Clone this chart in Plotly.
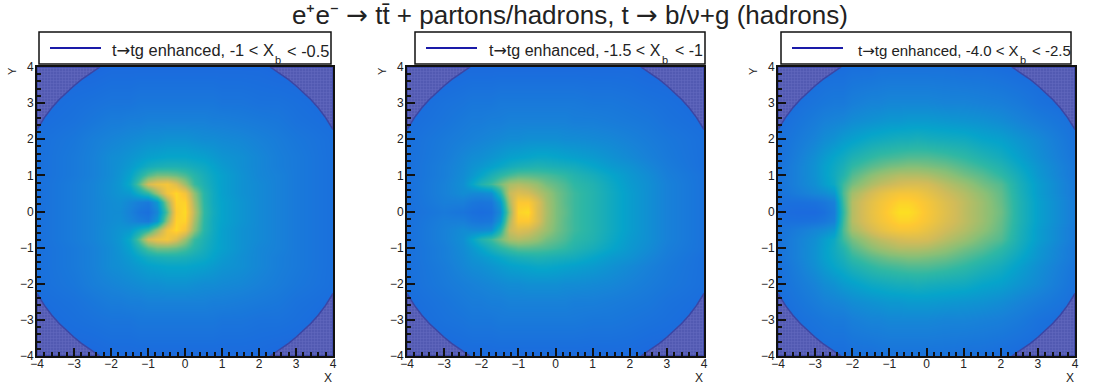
import plotly.graph_objects as go

# kBird palette (lifted slightly at the blue end to match the picture)
bird = [[0.0,'rgb(53,42,135)'],[0.125,'rgb(28,98,224)'],[0.25,'rgb(24,129,216)'],[0.375,'rgb(6,164,202)'],
        [0.5,'rgb(46,183,164)'],[0.625,'rgb(135,191,119)'],[0.75,'rgb(209,187,89)'],[0.875,'rgb(254,200,50)'],[1.0,'rgb(249,251,14)']]

y_nodes = [4,3,2.5,2,1.5,1.25,1,.75,.5,.25,0,-.25,-.5,-.75,-1,-1.25,-1.5,-2,-2.5,-3,-4]

x1 = [-4,-3,-2.5,-2,-1.75,-1.5,-1.25,-1,-.75,-.5,-.25,0,.25,.5,.75,1,1.5,2,2.5,3,4]
z1 = [
[15,15,15,16,16,16,16,16,16,16,16,16,16,16,16,16,16,16,15,15,15],
[16,18,19,20,20,20,21,21,21,21,21,21,21,21,21,20,20,19,19,18,16],
[17,19,21,23,23,24,24,25,25,25,25,25,25,25,24,24,23,22,21,19,17],
[18,21,24,26,27,28,29,30,30,31,31,31,30,29,29,28,27,25,23,21,18],
[18,22,25,29,30,32,34,36,37,38,38,38,37,36,34,32,30,27,24,22,18],
[18,22,25,29,31,34,38,42,44,45,45,44,42,40,37,34,30,27,24,22,18],
[18,22,25,29,32,37,46,55,60,60,58,54,48,43,39,36,31,27,25,22,18],
[18,23,26,30,33,40,56,76,82,85,78,66,52,45,40,36,31,28,25,22,18],
[18,23,26,30,32,34,42,50,66,84,91,84,64,48,41,36,31,28,25,22,18],
[18,23,26,29,30,27,24,22,33,65,90,90,68,49,41,37,32,28,25,22,18],
[18,23,26,29,29,25,20,18,27,56,88,92,71,50,42,37,32,28,25,22,18],
[18,23,26,29,30,27,24,22,33,65,90,90,68,49,41,37,32,28,25,22,18],
[18,23,26,30,32,34,42,50,66,84,91,84,64,48,41,36,31,28,25,22,18],
[18,23,26,30,33,40,56,76,82,85,78,66,52,45,40,36,31,28,25,22,18],
[18,22,25,29,32,37,46,55,60,60,58,54,48,43,39,36,31,27,25,22,18],
[18,22,25,29,31,34,38,42,44,45,45,44,42,40,37,34,30,27,24,22,18],
[18,22,25,29,30,32,34,36,37,38,38,38,37,36,34,32,30,27,24,22,18],
[18,21,24,26,27,28,29,30,30,31,31,31,30,29,29,28,27,25,23,21,18],
[17,19,21,23,23,24,24,25,25,25,25,25,25,25,24,24,23,22,21,19,17],
[16,18,19,20,20,20,21,21,21,21,21,21,21,21,21,20,20,19,19,18,16],
[15,15,15,16,16,16,16,16,16,16,16,16,16,16,16,16,16,16,15,15,15],
]

x2 = [-4,-3,-2.5,-2.25,-2,-1.75,-1.5,-1.25,-1,-.75,-.5,-.25,0,.25,.5,1,1.5,2,2.5,3,4]
z2 = [
[15,15,16,16,16,16,16,16,16,16,16,16,16,16,16,16,16,16,15,15,15],
[16,19,20,21,21,21,22,22,22,22,22,22,22,22,22,21,21,20,19,18,16],
[17,20,22,23,23,24,24,25,25,25,25,25,25,25,24,24,23,22,21,19,17],
[18,22,24,25,26,27,28,29,29,30,30,30,30,29,29,28,27,25,23,21,18],
[18,23,27,29,30,32,34,36,37,38,39,39,38,37,36,34,31,28,25,22,18],
[18,24,28,31,33,36,39,42,44,45,46,45,44,43,42,38,34,31,27,23,18],
[18,24,29,33,38,44,49,53,56,56,55,54,52,50,47,43,38,33,29,24,19],
[18,25,30,38,46,52,60,68,70,68,65,60,57,54,50,46,40,34,30,25,19],
[18,25,29,28,28,30,47,73,78,76,71,66,60,56,52,47,41,35,30,25,19],
[18,24,24,21,20,21,34,68,87,87,78,68,61,56,52,47,41,35,30,25,19],
[18,22,20,18,17,18,28,62,90,92,78,69,61,57,52,47,41,35,30,25,19],
[18,24,24,21,20,21,34,68,87,87,78,68,61,56,52,47,41,35,30,25,19],
[18,25,29,28,28,30,47,73,78,76,71,66,60,56,52,47,41,35,30,25,19],
[18,25,30,38,46,52,60,68,70,68,65,60,57,54,50,46,40,34,30,25,19],
[18,24,29,33,38,44,49,53,56,56,55,54,52,50,47,43,38,33,29,24,19],
[18,24,28,31,33,36,39,42,44,45,46,45,44,43,42,38,34,31,27,23,18],
[18,23,27,29,30,32,34,36,37,38,39,39,38,37,36,34,31,28,25,22,18],
[18,22,24,25,26,27,28,29,29,30,30,30,30,29,29,28,27,25,23,21,18],
[17,20,22,23,23,24,24,25,25,25,25,25,25,25,24,24,23,22,21,19,17],
[16,19,20,21,21,21,22,22,22,22,22,22,22,22,22,21,21,20,19,18,16],
[15,15,16,16,16,16,16,16,16,16,16,16,16,16,16,16,16,16,15,15,15],
]

x3 = [-4,-3.5,-3,-2.75,-2.5,-2.25,-2,-1.5,-1.25,-1,-.75,-.5,-.25,0,.5,1,1.5,2,2.5,3,4]
z3 = [
[15,16,16,17,17,17,18,18,19,19,19,19,19,19,19,18,18,17,16,16,15],
[16,18,20,21,22,22,24,26,26,27,27,27,27,27,26,26,25,24,22,19,16],
[17,20,23,25,26,27,29,31,32,33,33,34,34,34,33,32,31,29,26,23,18],
[18,22,26,29,31,34,36,40,41,42,43,43,44,43,42,41,38,36,32,28,19],
[18,24,30,34,38,41,45,50,52,53,54,55,55,55,53,50,46,42,36,30,20],
[19,25,31,36,40,44,50,56,58,60,61,62,62,61,59,55,51,46,39,32,21],
[19,25,31,36,41,47,55,63,66,68,70,70,70,69,65,60,56,50,42,33,21],
[19,25,30,35,40,52,60,69,72,74,76,77,77,76,71,66,60,55,44,35,22],
[19,23,27,29,33,54,67,76,80,83,85,85,84,81,75,70,64,57,45,35,22],
[18,18,19,21,25,52,70,80,84,87,90,90,88,85,78,72,66,58,46,36,23],
[17,16,16,18,23,50,70,81,85,89,93,93,90,86,79,72,66,59,46,36,23],
[18,18,19,21,25,52,70,80,84,87,90,90,88,85,78,72,66,58,46,36,23],
[19,23,27,29,33,54,67,76,80,83,85,85,84,81,75,70,64,57,45,35,22],
[19,25,30,35,40,52,60,69,72,74,76,77,77,76,71,66,60,55,44,35,22],
[19,25,31,36,41,47,55,63,66,68,70,70,70,69,65,60,56,50,42,33,21],
[19,25,31,36,40,44,50,56,58,60,61,62,62,61,59,55,51,46,39,32,21],
[18,24,30,34,38,41,45,50,52,53,54,55,55,55,53,50,46,42,36,30,20],
[18,22,26,29,31,34,36,40,41,42,43,43,44,43,42,41,38,36,32,28,19],
[17,20,23,25,26,27,29,31,32,33,33,34,34,34,33,32,31,29,26,23,18],
[16,18,20,21,22,22,24,26,26,27,27,27,27,27,26,26,25,24,22,19,16],
[15,16,16,17,17,17,18,18,19,19,19,19,19,19,19,18,18,17,16,16,15],
]

corner_x = [-4,-4,-3.8,-3.6,-3.4,-3.2,-3,-2.8,-2.6,-2.3,-4,None,
             4, 4, 3.8, 3.6, 3.4, 3.2, 3, 2.8, 2.6, 2.3, 4,None,
            -4,-4,-3.8,-3.6,-3.4,-3.2,-3,-2.8,-2.6,-2.3,-4,None,
             4, 4, 3.8, 3.6, 3.4, 3.2, 3, 2.8, 2.6, 2.3, 4]
corner_y = [4,2.27,2.6,2.87,3.1,3.3,3.48,3.65,3.8,4,4,None,
            4,2.27,2.6,2.87,3.1,3.3,3.48,3.65,3.8,4,4,None,
            -4,-2.27,-2.6,-2.87,-3.1,-3.3,-3.48,-3.65,-3.8,-4,-4,None,
            -4,-2.27,-2.6,-2.87,-3.1,-3.3,-3.48,-3.65,-3.8,-4,-4]

panels = [(x1, z1), (x2, z2), (x3, z3)]
AR = '<span style="font-family:DejaVu Sans">→</span>'
legend_left = ["t" + AR + "tg enhanced, -1 < X", "t" + AR + "tg enhanced, -1.5 < X", "t" + AR + "tg enhanced, -4.0 < X"]
legend_right = ["< -0.5", "< -1", "< -2.5"]
legend_size = [16.4, 16, 15]
tick_vals = [-4,-3,-2,-1,0,1,2,3,4]
tick_text = ["−4","−3","−2","−1","0","1","2","3","4"]
title_text = "e\u207ae\u207b " + AR + " tt\u0304 + partons/hadrons, t " + AR + " b/ν+g (hadrons)"

W, H = 1112, 392
frames = [(37, 333), (407, 704), (778, 1075)]
top, bottom = 67, 356
boxes = [(39, 331), (415, 705), (781, 1071)]
sub_px = [(278, 285), (665, 673), (1023, 1030)]
FONT = "Liberation Sans"
INK = "#111111"
TXT = "#222222"

fig = go.Figure()
layout = dict(width=W, height=H, margin=dict(l=0, r=0, t=0, b=0, pad=0), paper_bgcolor="white",
              plot_bgcolor="white", showlegend=False, font=dict(family=FONT, color=TXT))
shapes, annos = [], []

def note(text, px, py, size, xanchor="center", **kw):
    annos.append(dict(text=text, xref="paper", yref="paper", x=px / W, y=1 - py / H, xanchor=xanchor,
                      yanchor="middle", showarrow=False, font=dict(family=FONT, size=size, color=TXT), **kw))

for i, ((xs, zs), (l, r), (bl, br), ll, lr, (sb, sr), fs) in enumerate(zip(panels, frames, boxes, legend_left, legend_right, sub_px, legend_size)):
    n = "" if i == 0 else str(i + 1)
    fig.add_trace(go.Heatmap(x=xs, y=y_nodes, z=[[v / 100 for v in row] for row in zs], colorscale=bird,
                             zmin=0, zmax=1, zsmooth="best", showscale=False, hoverinfo="skip",
                             xaxis="x" + n, yaxis="y" + n))
    fig.add_trace(go.Scatter(x=corner_x, y=corner_y, mode="lines", fill="toself",
                             line=dict(color="rgb(58,70,165)", width=1.5),
                             fillcolor="rgb(85,95,180)",
                             fillpattern=dict(shape="+", size=3, solidity=0.3,
                                              fgcolor="rgb(118,122,205)", bgcolor="rgb(82,90,178)"),
                             hoverinfo="skip", xaxis="x" + n, yaxis="y" + n))
    axis_common = dict(range=[-4, 4], tickvals=tick_vals, ticktext=tick_text, ticks="inside", ticklen=8,
                       tickwidth=1.5, tickcolor=INK, showgrid=False, zeroline=False, showline=True,
                       linecolor=INK, linewidth=2, mirror=True, tickangle=0, automargin=False,
                       tickfont=dict(family=FONT, size=12, color=TXT),
                       minor=dict(ticks="inside", ticklen=4, tickwidth=1.5, tickcolor=INK, dtick=0.2, showgrid=False))
    layout["xaxis" + n] = dict(axis_common, domain=[l / W, r / W], anchor="y" + n, ticklabelstandoff=-4)
    layout["yaxis" + n] = dict(axis_common, domain=[1 - bottom / H, 1 - top / H], anchor="x" + n, ticklabelstandoff=-1)
    shapes.append(dict(type="rect", xref="paper", yref="paper", x0=bl / W, x1=br / W, y0=1 - 64 / H, y1=1 - 32 / H,
                       line=dict(color=INK, width=1.5), fillcolor="white"))
    shapes.append(dict(type="line", xref="paper", yref="paper", x0=(bl + 11) / W, x1=(bl + 62) / W,
                       y0=1 - 48 / H, y1=1 - 48 / H, line=dict(color="#1a1aa8", width=2)))
    note(ll, sb - 2, 50.5, fs, xanchor="right")
    note("b", sb, 60, 11)
    note(lr, sr, 50.5, fs, xanchor="left")
    note("X", r - 5, 378, 12)
    note("Y", l - 25, 71, 11, textangle=-90)

note(title_text, 570, 15, 26)
fig.update_layout(**layout, shapes=shapes, annotations=annos)
fig.write_html("out.html", config={"displayModeBar": False},
               post_script="document.documentElement.style.margin='0';document.body.style.margin='0';"
                           "document.documentElement.style.overflow='hidden';document.body.style.overflow='hidden';")
